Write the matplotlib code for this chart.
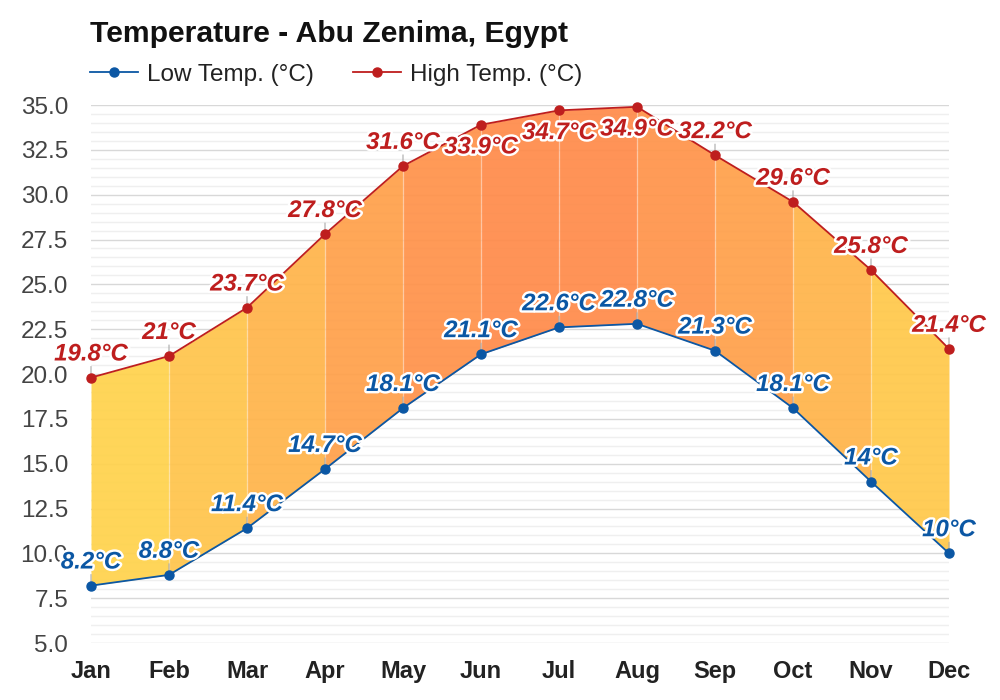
import matplotlib.pyplot as plt
import matplotlib.patheffects as pe
from matplotlib.ticker import MultipleLocator

plt.rcParams['font.family'] = ['Liberation Sans', 'DejaVu Sans']

# Data
months = ['Jan', 'Feb', 'Mar', 'Apr', 'May', 'Jun', 'Jul', 'Aug', 'Sep', 'Oct', 'Nov', 'Dec']
low_temp = [8.2, 8.8, 11.4, 14.7, 18.1, 21.1, 22.6, 22.8, 21.3, 18.1, 14.0, 10.0]
high_temp = [19.8, 21.0, 23.7, 27.8, 31.6, 33.9, 34.7, 34.9, 32.2, 29.6, 25.8, 21.4]

# colour of each month-to-month band (warmer in the middle of the year)
band_colors = ['#FFD24C', '#FFC44B', '#FFB44A', '#FFA04A', '#FF924A', '#FF8B4A',
               '#FF8B4A', '#FF944A', '#FFA04A', '#FFB44A', '#FFC84A']

low_color = '#0B57A4'
high_color = '#BE1E1E'

x = list(range(len(months)))

fig = plt.figure(figsize=(10, 7), dpi=100)
ax = fig.add_axes([0.091, 0.0814, 0.858, 0.7686])

# banded fill between the two lines
for i in range(len(months) - 1):
    ax.fill_between(x[i:i + 2], low_temp[i:i + 2], high_temp[i:i + 2],
                    color=band_colors[i], alpha=0.93, linewidth=0, zorder=2)
for i in range(1, len(months) - 1):
    ax.plot([x[i], x[i]], [low_temp[i], high_temp[i]], color='white',
            alpha=0.3, lw=1, zorder=2.5)

ax.plot(x, low_temp, color=low_color, lw=1.3, marker='o', ms=6.5,
        label='Low Temp. (°C)', zorder=4, clip_on=False)
ax.plot(x, high_temp, color=high_color, lw=1.3, marker='o', ms=6.5,
        label='High Temp. (°C)', zorder=4, clip_on=False)

stroke = [pe.withStroke(linewidth=3.5, foreground='white')]


def fmt(v):
    s = f'{v:.1f}'
    if s.endswith('.0'):
        s = s[:-2]
    return s + '°C'


def label_points(vals, color, below=()):
    for i, v in enumerate(vals):
        dy = -16 if i in below else 17
        if i not in below:
            ax.annotate('', xy=(i, v), xytext=(0, 8), textcoords='offset points',
                        arrowprops=dict(arrowstyle='-', color='#aaaaaa', lw=0.8,
                                        shrinkA=0, shrinkB=0), zorder=3)
        ax.annotate(fmt(v), xy=(i, v), xytext=(0, dy), textcoords='offset points',
                    ha='center', va='center', fontsize=17.3, fontweight='bold',
                    fontstyle='italic', color=color, path_effects=stroke,
                    zorder=6, annotation_clip=False)


label_points(low_temp, low_color)
label_points(high_temp, high_color, below=(5, 6, 7))

ax.set_xlim(0, 11)
ax.set_ylim(5, 35)
ax.set_xticks(x)
ax.set_xticklabels(months, fontsize=17, fontweight='bold', color='#222222')
ax.yaxis.set_major_locator(MultipleLocator(2.5))
ax.yaxis.set_minor_locator(MultipleLocator(0.5))
ax.set_yticks(ax.get_yticks())
ax.set_yticklabels([f'{t:.1f}' for t in ax.get_yticks()], fontsize=17.5, color='#444444')
ax.set_ylim(5, 35)
ax.tick_params(axis='both', which='both', length=0)
ax.tick_params(axis='x', pad=12)
ax.tick_params(axis='y', pad=16.5)
ax.grid(which='major', axis='y', color='#d8d8d8', lw=1, zorder=0)
ax.grid(which='minor', axis='y', color='#efefef', lw=1, zorder=0)
ax.set_axisbelow(True)
for sp in ax.spines.values():
    sp.set_visible(False)

fig.text(0.09, 0.952, 'Temperature - Abu Zenima, Egypt', fontsize=21.7,
         fontweight='bold', va='center', ha='left', color='#111111')
ax.legend(loc='center left', bbox_to_anchor=(0.09, 0.893),
          bbox_transform=fig.transFigure, ncol=2, frameon=False, fontsize=17.5,
          borderaxespad=0, borderpad=0, handlelength=1.97, handletextpad=0.37,
          columnspacing=1.6, labelcolor='#222222')

fig.savefig('out.png', dpi=100)
